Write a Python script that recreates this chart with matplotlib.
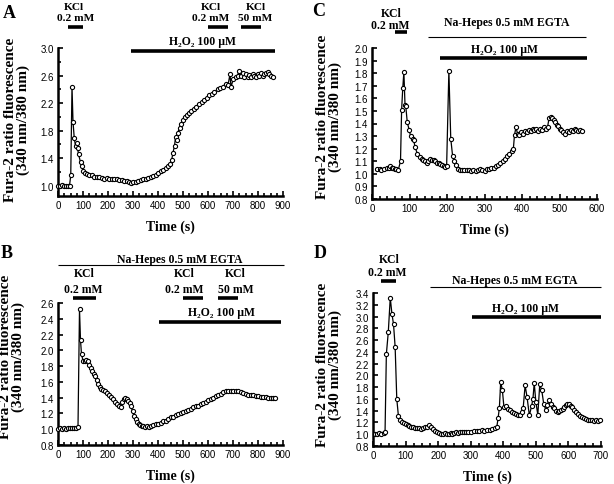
import matplotlib
matplotlib.use("Agg")
import matplotlib.pyplot as plt
from matplotlib.ticker import MultipleLocator

SERIF = ["Liberation Serif", "DejaVu Serif"]
SANS = ["Liberation Sans", "DejaVu Sans"]

# panel A: KCl then H2O2 in normal buffer
A_t = [0, 8, 16, 24, 32, 40, 46, 51, 56, 60, 65, 70, 74, 78, 82, 90, 96, 101, 108, 116,
       125, 135, 145, 155, 165, 175, 185, 195, 205, 215, 225, 235, 245, 255, 265, 275,
       285, 292, 300, 310, 320, 330, 340, 350, 360, 370, 380, 390, 400, 410, 420, 430,
       440, 448, 455, 460, 466, 470, 474, 479, 486, 493, 500, 506, 514, 522, 532, 542,
       552, 565, 575, 585, 595, 605, 615, 625, 638, 648, 658, 672, 680, 688, 692, 701,
       710, 718, 725, 732, 738, 745, 752, 758, 765, 772, 778, 785, 791, 798, 805, 811,
       818, 825, 832, 838, 845, 852, 858]
A_y = [1.00, 1.00, 1.01, 1.00, 0.99, 1.00, 1.00, 1.15, 2.44, 1.93, 1.69, 1.58, 1.62, 1.55,
       1.46, 1.34, 1.28, 1.22, 1.19, 1.17, 1.16, 1.15, 1.13, 1.12, 1.12, 1.11, 1.10, 1.11,
       1.10, 1.09, 1.10, 1.09, 1.08, 1.08, 1.07, 1.07, 1.05, 1.04, 1.05, 1.06, 1.07, 1.08,
       1.09, 1.10, 1.11, 1.13, 1.14, 1.16, 1.19, 1.21, 1.23, 1.25, 1.28, 1.31, 1.38, 1.48,
       1.58, 1.70, 1.66, 1.77, 1.84, 1.90, 1.95, 2.00, 2.03, 2.06, 2.09, 2.12, 2.15, 2.19,
       2.22, 2.24, 2.28, 2.31, 2.33, 2.36, 2.40, 2.42, 2.44, 2.48, 2.46, 2.62, 2.43, 2.55,
       2.58, 2.60, 2.67, 2.60, 2.63, 2.58, 2.62, 2.58, 2.61, 2.58, 2.62, 2.59, 2.58, 2.62,
       2.60, 2.63, 2.60, 2.62, 2.64, 2.65, 2.62, 2.60, 2.58]

# panel B: same protocol in Na-Hepes + EGTA
B_t = [0, 8, 16, 24, 32, 40, 48, 56, 64, 72, 80, 86, 90, 94, 100, 106, 112, 118, 124, 130,
       136, 142, 148, 154, 160, 166, 172, 180, 188, 196, 204, 212, 220, 228, 236, 244, 250,
       256, 262, 268, 274, 280, 286, 292, 298, 304, 310, 316, 322, 328, 334, 340, 348, 356,
       364, 372, 380, 390, 400, 410, 420, 430, 440, 450, 460, 470, 480, 490, 500, 510, 520,
       530, 540, 550, 560, 570, 580, 590, 600, 610, 620, 630, 640, 650, 660, 670, 680, 690,
       700, 710, 720, 730, 740, 750, 760, 770, 780, 790, 800, 810, 820, 830, 840, 850, 860,
       868]
B_y = [1.00, 1.01, 1.00, 1.01, 1.00, 1.02, 1.01, 1.02, 1.02, 1.02, 1.03, 2.52, 2.13, 1.95,
       1.87, 1.86, 1.88, 1.86, 1.82, 1.78, 1.74, 1.70, 1.67, 1.62, 1.57, 1.53, 1.51, 1.50,
       1.48, 1.46, 1.44, 1.41, 1.38, 1.35, 1.32, 1.29, 1.28, 1.34, 1.38, 1.39, 1.38, 1.36,
       1.33, 1.29, 1.23, 1.17, 1.13, 1.09, 1.07, 1.05, 1.04, 1.04, 1.03, 1.04, 1.03, 1.04,
       1.05, 1.06, 1.07, 1.08, 1.10, 1.11, 1.13, 1.15, 1.16, 1.18, 1.19, 1.21, 1.22, 1.23,
       1.25, 1.26, 1.28, 1.29, 1.30, 1.32, 1.33, 1.35, 1.37, 1.38, 1.40, 1.42, 1.44, 1.45,
       1.47, 1.48, 1.49, 1.49, 1.49, 1.49, 1.48, 1.47, 1.46, 1.45, 1.44, 1.43, 1.43, 1.42,
       1.42, 1.41, 1.41, 1.41, 1.40, 1.40, 1.39, 1.39]

# panel C: KCl in normal buffer, then H2O2 in Na-Hepes + EGTA
C_t = [14, 20, 25, 32, 39, 44, 48, 52, 56, 60, 65, 70, 76, 79, 82, 85, 88, 90, 94, 99, 103,
       108, 111, 115, 121, 128, 133, 137, 142, 146, 150, 155, 160, 164, 169, 173, 178, 182,
       187, 191, 195, 199, 205, 210, 215, 219, 224, 229, 234, 240, 246, 252, 258, 264, 270,
       276, 282, 288, 294, 300, 306, 312, 318, 324, 330, 336, 342, 348, 354, 360, 366, 372,
       377, 380, 384, 388, 393, 398, 403, 408, 413, 418, 423, 428, 433, 438, 443, 448, 453,
       458, 463, 468, 472, 476, 480, 484, 488, 492, 496, 500, 505, 510, 515, 520, 525, 530,
       535, 540, 545, 550, 555, 560]
C_y = [1.04, 1.04, 1.03, 1.04, 1.05, 1.05, 1.06, 1.05, 1.045, 1.04, 1.035, 1.03, 1.10,
       1.51, 1.68, 1.81, 1.55, 1.54, 1.41, 1.35, 1.30, 1.28, 1.27, 1.21, 1.16, 1.13, 1.12,
       1.11, 1.10, 1.09, 1.10, 1.12, 1.11, 1.11, 1.10, 1.09, 1.09, 1.08, 1.07, 1.06, 1.055,
       1.06, 1.82, 1.28, 1.14, 1.10, 1.07, 1.04, 1.03, 1.03, 1.03, 1.03, 1.03, 1.02, 1.03,
       1.02, 1.03, 1.04, 1.03, 1.02, 1.04, 1.04, 1.05, 1.05, 1.06, 1.07, 1.09, 1.10, 1.12,
       1.14, 1.16, 1.18, 1.20, 1.31, 1.37, 1.32, 1.31, 1.33, 1.32, 1.34, 1.33, 1.35, 1.34,
       1.36, 1.35, 1.36, 1.34, 1.36, 1.35, 1.37, 1.36, 1.37, 1.44, 1.45, 1.44, 1.43, 1.41,
       1.39, 1.38, 1.36, 1.35, 1.33, 1.32, 1.34, 1.33, 1.35, 1.34, 1.36, 1.35, 1.34, 1.35,
       1.34]

# panel D: KCl in normal buffer, H2O2 in Na-Hepes + EGTA, oscillations
D_t = [5, 12, 19, 26, 33, 37, 41, 47, 53, 58, 63, 68, 73, 78, 83, 88, 94, 100, 106, 112,
       118, 124, 130, 136, 142, 148, 154, 160, 166, 172, 178, 184, 190, 196, 202, 208, 214,
       220, 226, 232, 238, 244, 250, 256, 262, 268, 274, 280, 286, 292, 300, 310, 318, 326,
       334, 342, 350, 358, 366, 374, 380, 384, 388, 392, 397, 402, 408, 414, 420, 426, 432,
       438, 444, 450, 456, 461, 467, 473, 480, 487, 491, 495, 500, 506, 512, 518, 524, 530,
       535, 540, 547, 552, 557, 562, 567, 572, 577, 582, 587, 592, 597, 602, 607, 612, 618,
       624, 630, 636, 642, 648, 654, 660, 666, 672, 678, 684, 690, 696]
D_y = [1.01, 1.01, 1.02, 1.01, 1.02, 1.04, 2.36, 2.74, 3.32, 3.05, 2.87, 2.48, 1.60, 1.31,
       1.24, 1.21, 1.19, 1.17, 1.15, 1.14, 1.13, 1.12, 1.10, 1.11, 1.10, 1.09, 1.11, 1.12,
       1.13, 1.15, 1.13, 1.09, 1.06, 1.04, 1.02, 1.01, 1.01, 1.02, 1.00, 1.01, 1.02, 1.01,
       1.02, 1.03, 1.02, 1.03, 1.03, 1.04, 1.03, 1.04, 1.04, 1.05, 1.06, 1.05, 1.07, 1.06,
       1.08, 1.07, 1.09, 1.10, 1.12, 1.27, 1.45, 1.88, 1.76, 1.46, 1.48, 1.43, 1.41, 1.38,
       1.36, 1.34, 1.32, 1.33, 1.38, 1.44, 1.83, 1.63, 1.32, 1.48, 1.60, 1.87, 1.55, 1.33,
       1.85, 1.75, 1.52, 1.42, 1.50, 1.58, 1.52, 1.47, 1.44, 1.40, 1.38, 1.39, 1.41, 1.43,
       1.46, 1.49, 1.51, 1.51, 1.48, 1.46, 1.42, 1.38, 1.34, 1.31, 1.29, 1.27, 1.26, 1.25,
       1.25, 1.24, 1.23, 1.24, 1.23, 1.24]

# treatment periods (s)
A_kcl = [(40, 100), (600, 680), (730, 810)]
A_h2o2 = (290, 868)
B_hepes = (0, 905)
B_kcl = [(60, 150), (500, 580), (640, 720)]
B_h2o2 = (405, 890)
C_kcl = (60, 93)
C_hepes = (148, 570)
C_h2o2 = (180, 572)
D_kcl = (25, 70)
D_hepes = (175, 700)
D_h2o2 = (305, 700)

W, H = 614, 485
fig = plt.figure(figsize=(W / 100, H / 100), dpi=100)


def axes_px(left, top, right, bottom):
    return fig.add_axes([left / W, 1 - bottom / H, (right - left) / W, (bottom - top) / H])


def style(ax, xmax, xminor, ylo, yhi, yticks, yminor=None):
    ax.set_xlim(0, xmax)
    ax.set_ylim(ylo, yhi)
    for s in ["top", "right"]:
        ax.spines[s].set_visible(False)
    for s in ["left", "bottom"]:
        ax.spines[s].set_linewidth(1.8)
    ax.xaxis.set_major_locator(MultipleLocator(100))
    ax.xaxis.set_minor_locator(MultipleLocator(xminor))
    ax.set_yticks(yticks)
    ax.set_yticklabels(["%.1f" % v for v in yticks])
    if yminor is not None:
        ax.set_yticks(yminor, minor=True)
    ax.tick_params(which="both", direction="in", width=1.2, labelsize=7, pad=3)
    ax.tick_params(which="major", length=3.5)
    ax.tick_params(which="minor", length=2)
    for lab in ax.get_xticklabels() + ax.get_yticklabels():
        lab.set_family(SANS)
    ax.set_xlabel("Time (s)", fontsize=10, fontweight="bold", family=SERIF, labelpad=7)


def trace(ax, t, y):
    ax.plot(t, y, color="black", lw=0.9, marker="o", ms=3.0, mfc="white", mec="black",
            mew=0.8, clip_on=False, zorder=3)


def bar(ax, span, yf, lw=2.6):
    ax.plot(span, [yf, yf], transform=ax.get_xaxis_transform(), color="black", lw=lw,
            solid_capstyle="butt", clip_on=False)


def label(ax, x, yf, s, size=8.5):
    ax.text(x, yf, s, transform=ax.get_xaxis_transform(), ha="center", va="center",
            fontsize=size, fontweight="bold", family=SERIF, clip_on=False)


def ylab(xp, yp):
    fig.text(xp / W, 1 - yp / H, "Fura-2 ratio fluorescence\n(340 nm/380 nm)", rotation=90,
             ha="center", va="center", linespacing=1.0, fontsize=11, fontweight="bold",
             family=SERIF)


def letter(xp, yp, s):
    fig.text(xp / W, 1 - yp / H, s, ha="center", va="center", fontsize=13,
             fontweight="bold", family=SERIF)


H2O2 = "H\u2082O\u2082 100 \u00b5M"
HEPES = "Na-Hepes 0.5 mM EGTA"

# A
axA = axes_px(58, 49, 283, 197)
trace(axA, A_t, A_y)
style(axA, 900, 25, 0.85, 3.0, [1.0, 1.4, 1.8, 2.2, 2.6, 3.0], [1.2, 1.6, 2.0, 2.4, 2.8])
for span in A_kcl:
    bar(axA, span, 1.142)
label(axA, 62, 1.278, "KCl", 8.2)
label(axA, 72, 1.205, "0.2 mM", 8.2)
label(axA, 612, 1.278, "KCl", 8.2)
label(axA, 612, 1.205, "0.2 mM", 8.2)
label(axA, 790, 1.278, "KCl", 8.2)
label(axA, 790, 1.205, "50 mM", 8.2)
bar(axA, A_h2o2, 0.98)
label(axA, 579, 1.045, H2O2)

# B
axB = axes_px(58, 304, 283, 446)
trace(axB, B_t, B_y)
style(axB, 900, 25, 0.8, 2.6, [0.8, 1.0, 1.2, 1.4, 1.6, 1.8, 2.0, 2.2, 2.4, 2.6])
bar(axB, B_hepes, 1.268, lw=0.8)
label(axB, 486, 1.31, HEPES)
for span in B_kcl:
    bar(axB, span, 1.035)
label(axB, 105, 1.211, "KCl")
label(axB, 101, 1.099, "0.2 mM")
label(axB, 506, 1.211, "KCl")
label(axB, 506, 1.099, "0.2 mM")
label(axB, 710, 1.211, "KCl")
label(axB, 712, 1.099, "50 mM")
bar(axB, B_h2o2, 0.866)
label(axB, 656, 0.937, H2O2)

# C
axC = axes_px(372, 49, 597, 200)
trace(axC, C_t, C_y)
style(axC, 600, 20, 0.8, 2.0, [0.8, 0.9, 1.0, 1.1, 1.2, 1.3, 1.4, 1.5, 1.6, 1.7, 1.8, 1.9, 2.0])
bar(axC, C_kcl, 1.106)
label(axC, 52, 1.235, "KCl")
label(axC, 48, 1.155, "0.2 mM")
bar(axC, C_hepes, 1.073, lw=0.8)
label(axC, 358, 1.172, HEPES)
bar(axC, C_h2o2, 0.934)
label(axC, 354, 0.993, H2O2)

# D
axD = axes_px(373, 294, 601, 447)
trace(axD, D_t, D_y)
style(axD, 700, 25, 0.8, 3.4, [0.8, 1.0, 1.2, 1.4, 1.6, 1.8, 2.0, 2.2, 2.4, 2.6, 2.8,
                               3.0, 3.2, 3.4])
bar(axD, D_kcl, 1.078)
label(axD, 49, 1.225, "KCl")
label(axD, 44, 1.135, "0.2 mM")
bar(axD, D_hepes, 1.039, lw=0.8)
label(axD, 435, 1.085, HEPES)
bar(axD, D_h2o2, 0.843)
label(axD, 468, 0.902, H2O2)

ylab(17, 120)
ylab(12, 357)
ylab(329, 117)
ylab(329, 365)
letter(9, 13, "A")
letter(7, 253, "B")
letter(319, 12, "C")
letter(320, 254, "D")

fig.savefig("out.png", dpi=100)
